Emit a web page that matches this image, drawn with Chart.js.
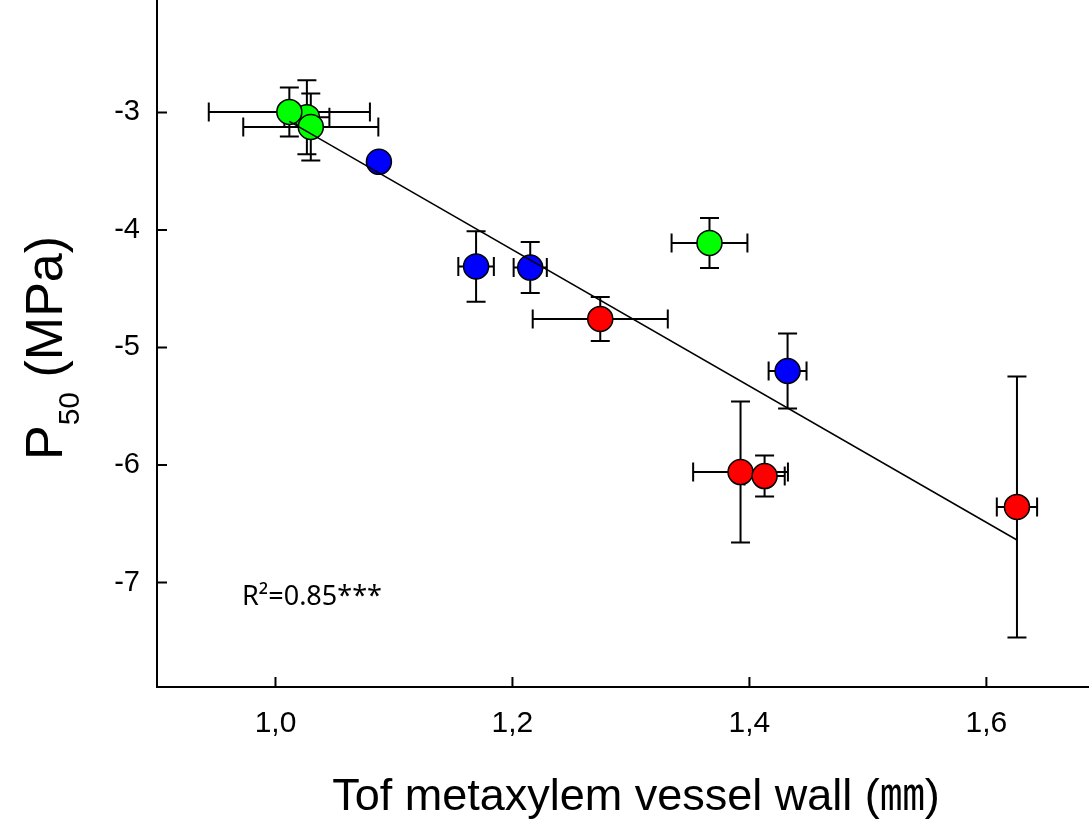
<!DOCTYPE html>
<html>
<head>
<meta charset="utf-8">
<script src="https://cdn.jsdelivr.net/npm/chart.js@4"></script>
<style>
  html, body { margin: 0; padding: 0; background: #fff; overflow: hidden; }
  #chart { display: block; }
</style>
</head>
<body>
<canvas id="chart" width="1089" height="820"></canvas>
<script>
// values
const greenX = [1.0265, 1.0117, 1.0298, 1.3663];
const greenY = [-3.04, -2.996, -3.123, -4.11];
const greenXErr = [0.019, 0.068, 0.057, 0.032];
const greenYErr = [0.315, 0.208, 0.285, 0.213];

const blueX = [1.0873, 1.1693, 1.2150, 1.4322];
const blueY = [-3.42, -4.31, -4.32, -5.20];
const blueXErr = [0, 0.015, 0.014, 0.016];
const blueYErr = [0, 0.30, 0.217, 0.32];

const redX = [1.2741, 1.3925, 1.4128, 1.6258];
const redY = [-4.757, -6.06, -6.094, -6.357];
const redXErr = [0.057, 0.040, 0.017, 0.017];
const redYErr = [0.187, 0.60, 0.175, 1.11];

// regression line end points
const fitX = [1.0117, 1.6258];
const fitY = [-3.076, -6.638];

const xTicks = [1.0, 1.2, 1.4, 1.6];
const yTicks = [-7, -6, -5, -4, -3];

const xTitle = 'Tof metaxylem vessel wall (\u339C)';
const rText = 'R\u00B2=0.85***';

const FONT = '"Liberation Sans", Arial, sans-serif';
Chart.defaults.font.family = FONT;

function pts(xs, ys, xe, ye) {
  return xs.map((x, i) => ({ x: x, y: ys[i], xErr: xe[i], yErr: ye[i] }));
}

function markerSet(label, color, data) {
  return {
    type: 'scatter',
    label: label,
    data: data,
    backgroundColor: color,
    borderColor: '#000',
    borderWidth: 1.5,
    pointRadius: 12.5,
    pointHoverRadius: 12.5,
    errorBars: true
  };
}

// error bars drawn just before each marker set
const errorBarPlugin = {
  id: 'errorBars',
  beforeDatasetDraw(chart, args) {
    const ds = chart.data.datasets[args.index];
    if (!ds.errorBars) return;
    const { ctx, scales: { x, y } } = chart;
    const cap = 9.5;
    ctx.save();
    ctx.strokeStyle = '#000';
    ctx.lineWidth = 2;
    ds.data.forEach(p => {
      const px = x.getPixelForValue(p.x);
      const py = y.getPixelForValue(p.y);
      ctx.beginPath();
      if (p.xErr > 0) {
        const l = x.getPixelForValue(p.x - p.xErr);
        const r = x.getPixelForValue(p.x + p.xErr);
        ctx.moveTo(l, py); ctx.lineTo(r, py);
        ctx.moveTo(l, py - cap); ctx.lineTo(l, py + cap);
        ctx.moveTo(r, py - cap); ctx.lineTo(r, py + cap);
      }
      if (p.yErr > 0) {
        const t = y.getPixelForValue(p.y + p.yErr);
        const b = y.getPixelForValue(p.y - p.yErr);
        ctx.moveTo(px, t); ctx.lineTo(px, b);
        ctx.moveTo(px - cap, t); ctx.lineTo(px + cap, t);
        ctx.moveTo(px - cap, b); ctx.lineTo(px + cap, b);
      }
      ctx.stroke();
    });
    ctx.restore();
  }
};

// inward tick marks, axis titles and R² note
const decorPlugin = {
  id: 'decor',
  afterDraw(chart) {
    const { ctx, chartArea: area, scales: { x, y } } = chart;
    ctx.save();
    ctx.strokeStyle = '#000';
    ctx.lineWidth = 2;
    ctx.beginPath();
    xTicks.forEach(v => {
      const px = x.getPixelForValue(v);
      ctx.moveTo(px, area.bottom); ctx.lineTo(px, area.bottom - 10);
    });
    yTicks.forEach(v => {
      const py = y.getPixelForValue(v);
      ctx.moveTo(area.left, py); ctx.lineTo(area.left + 10, py);
    });
    ctx.stroke();

    ctx.fillStyle = '#000';
    // x title
    ctx.font = '45px ' + FONT + ', "Noto Sans CJK JP"';
    ctx.textAlign = 'center';
    ctx.textBaseline = 'alphabetic';
    ctx.fillText(xTitle, 636, 810);

    // y title with subscript
    ctx.save();
    ctx.translate(62, 460);
    ctx.rotate(-Math.PI / 2);
    ctx.textAlign = 'left';
    ctx.font = '52px ' + FONT;
    ctx.fillText('P', 0, 0);
    let off = ctx.measureText('P').width;
    ctx.font = '30px ' + FONT;
    ctx.fillText('50', off, 17);
    off += ctx.measureText('50').width;
    ctx.font = '52px ' + FONT;
    ctx.fillText(' (MPa)', off, 0);
    ctx.restore();

    // R² note
    ctx.font = '27px "Noto Sans", "Open Sans", sans-serif';
    ctx.textAlign = 'left';
    ctx.fillText(rText, 242, 605);
    ctx.restore();
  }
};

function noPad(scale) {
  scale.paddingTop = 0;
  scale.paddingBottom = 0;
  scale.paddingLeft = 0;
  scale.paddingRight = 0;
}

const ctx = document.getElementById('chart').getContext('2d');
new Chart(ctx, {
  data: {
    datasets: [
      {
        type: 'line',
        label: 'fit',
        data: fitX.map((x, i) => ({ x: x, y: fitY[i] })),
        borderColor: '#000',
        borderWidth: 1.5,
        pointRadius: 0,
        fill: false,
        tension: 0
      },
      markerSet('green', '#00ff00', pts(greenX, greenY, greenXErr, greenYErr)),
      markerSet('blue', '#0000ff', pts(blueX, blueY, blueXErr, blueYErr)),
      markerSet('red', '#ff0000', pts(redX, redY, redXErr, redYErr))
    ]
  },
  options: {
    responsive: false,
    animation: false,
    layout: { padding: 0, autoPadding: false },
    plugins: {
      legend: { display: false },
      tooltip: { enabled: false }
    },
    scales: {
      x: {
        type: 'linear',
        min: 0.9,
        max: 1.6866,
        afterBuildTicks: scale => { scale.ticks = xTicks.map(v => ({ value: v })); },
        afterFit: scale => { scale.height = 133; noPad(scale); },
        grid: { display: true, drawOnChartArea: false, drawTicks: false },
        border: { display: true, color: '#000', width: 2 },
        ticks: {
          color: '#000',
          font: { family: FONT, size: 30 },
          padding: 19,
          maxRotation: 0,
          callback: v => v.toFixed(1).replace('.', ',')
        }
      },
      y: {
        type: 'linear',
        min: -7.889,
        max: -2.043,
        afterBuildTicks: scale => { scale.ticks = yTicks.map(v => ({ value: v })); },
        afterFit: scale => { scale.width = 157; noPad(scale); },
        grid: { display: true, drawOnChartArea: false, drawTicks: false },
        border: { display: true, color: '#000', width: 2 },
        ticks: {
          color: '#000',
          font: { family: FONT, size: 29 },
          padding: 17,
          callback: v => String(v)
        }
      }
    }
  },
  plugins: [errorBarPlugin, decorPlugin]
});
</script>
</body>
</html>
